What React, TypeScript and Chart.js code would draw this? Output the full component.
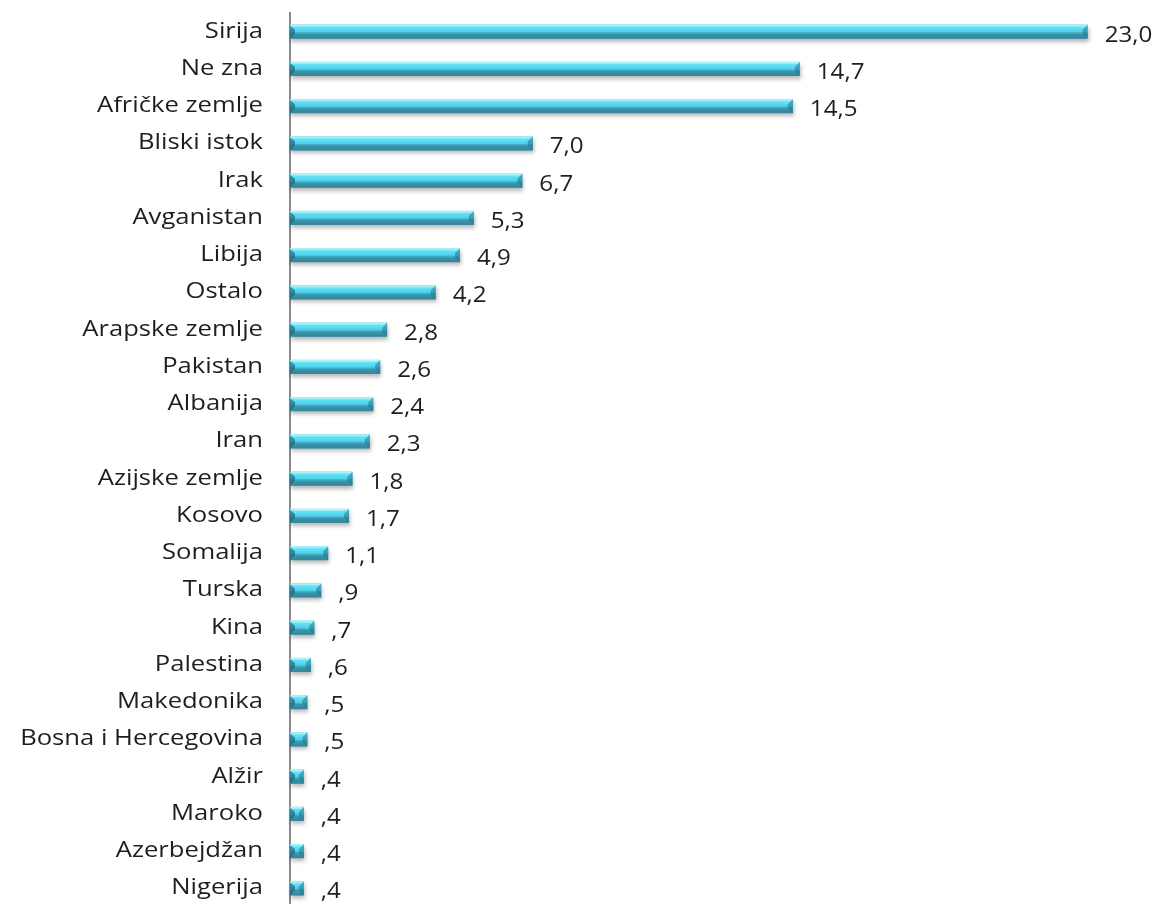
import { useEffect, useRef } from "react";
import { Chart, registerables } from "chart.js";

Chart.register(...registerables);

const categories = [
  "Sirija",
  "Ne zna",
  "Afričke zemlje",
  "Bliski istok",
  "Irak",
  "Avganistan",
  "Libija",
  "Ostalo",
  "Arapske zemlje",
  "Pakistan",
  "Albanija",
  "Iran",
  "Azijske zemlje",
  "Kosovo",
  "Somalija",
  "Turska",
  "Kina",
  "Palestina",
  "Makedonika",
  "Bosna i Hercegovina",
  "Alžir",
  "Maroko",
  "Azerbejdžan",
  "Nigerija",
];

const values = [
  23.0, 14.7, 14.5, 7.0, 6.7, 5.3, 4.9, 4.2, 2.8, 2.6, 2.4, 2.3, 1.8, 1.7, 1.1,
  0.9, 0.7, 0.6, 0.5, 0.5, 0.4, 0.4, 0.4, 0.4,
];

const xMin = 0;
const xMax = 25;

function formatValue(v: number): string {
  const s = v.toFixed(1).replace(".", ",");
  return s.startsWith("0,") ? s.slice(1) : s;
}

const bevelBarsPlugin = {
  id: "bevelBars",
  afterDatasetsDraw(chart: any) {
    const ctx = chart.ctx as CanvasRenderingContext2D;
    const meta = chart.getDatasetMeta(0);
    meta.data.forEach((el: any) => {
      const { x, y, base, height } = el.getProps(["x", "y", "base", "height"], true);
      const x0 = Math.min(base, x);
      const x1 = Math.max(base, x);
      const y0 = y - height / 2;
      const y1 = y + height / 2;
      const w = x1 - x0;
      const h = y1 - y0;
      const b = Math.min(5, w / 2, h / 2);

      // shadow
      ctx.save();
      ctx.shadowColor = "rgba(0,0,0,0.28)";
      ctx.shadowBlur = 4;
      ctx.shadowOffsetY = 3;
      ctx.shadowOffsetX = 1;
      ctx.fillStyle = "#46b0c8";
      ctx.fillRect(x0, y0, w, h);
      ctx.restore();

      // face
      ctx.save();
      const g = ctx.createLinearGradient(0, y0, 0, y1);
      g.addColorStop(0, "#9af3ff");
      g.addColorStop(0.15, "#66e3f7");
      g.addColorStop(0.5, "#50d2ea");
      g.addColorStop(0.58, "#42afc7");
      g.addColorStop(1, "#3a91a7");
      ctx.fillStyle = g;
      ctx.fillRect(x0, y0, w, h);

      // top bevel highlight
      ctx.fillStyle = "rgba(255,255,255,0.3)";
      ctx.beginPath();
      ctx.moveTo(x0, y0);
      ctx.lineTo(x1, y0);
      ctx.lineTo(x1 - 2, y0 + 2);
      ctx.lineTo(x0 + 2, y0 + 2);
      ctx.closePath();
      ctx.fill();

      // bottom bevel
      ctx.fillStyle = "rgba(20,70,90,0.18)";
      ctx.beginPath();
      ctx.moveTo(x0, y1);
      ctx.lineTo(x1, y1);
      ctx.lineTo(x1 - b, y1 - b);
      ctx.lineTo(x0 + b, y1 - b);
      ctx.closePath();
      ctx.fill();

      // left bevel
      ctx.fillStyle = "rgba(25,85,105,0.6)";
      ctx.beginPath();
      ctx.moveTo(x0, y0 + 1);
      ctx.lineTo(x0 + b, y0 + b);
      ctx.lineTo(x0 + b, y1 - b);
      ctx.lineTo(x0, y1);
      ctx.closePath();
      ctx.fill();

      // right bevel
      ctx.fillStyle = "rgba(30,95,115,0.45)";
      ctx.beginPath();
      ctx.moveTo(x1, y0);
      ctx.lineTo(x1 - b, y0 + b);
      ctx.lineTo(x1 - b, y1 - b);
      ctx.lineTo(x1, y1);
      ctx.closePath();
      ctx.fill();
      ctx.restore();
    });
  },
};

const labelsPlugin = {
  id: "customLabels",
  afterDraw(chart: any) {
    const ctx = chart.ctx as CanvasRenderingContext2D;
    const yScale = chart.scales.y;
    const meta = chart.getDatasetMeta(0);
    // category labels
    categories.forEach((c, i) => {
      const y = yScale.getPixelForValue(i);
      ctx.save();
      ctx.font = '21px "Open Sans"';
      ctx.fillStyle = "#1e1e1e";
      ctx.textAlign = "right";
      ctx.textBaseline = "middle";
      ctx.translate(yScale.right - 27, y);
      ctx.scale(1.22, 1);
      ctx.fillText(c, 0, 0);
      ctx.restore();
    });
    // value labels
    meta.data.forEach((el: any, i: number) => {
      const { x, y } = el.getProps(["x", "y"], true);
      ctx.save();
      ctx.font = '21px "Open Sans"';
      ctx.fillStyle = "#1e1e1e";
      ctx.textAlign = "left";
      ctx.textBaseline = "middle";
      ctx.translate(x + 17, y + 4);
      ctx.scale(1.15, 1);
      ctx.fillText(formatValue(values[i]), 0, 0);
      ctx.restore();
    });
  },
};

export default function App() {
  const canvasRef = useRef<HTMLCanvasElement | null>(null);

  useEffect(() => {
    if (!canvasRef.current) return;
    const chart = new Chart(canvasRef.current, {
      type: "bar",
      data: {
        labels: categories,
        datasets: [
          {
            data: values,
            backgroundColor: "rgba(0,0,0,0)",
            borderWidth: 0,
            barThickness: 14,
          },
        ],
      },
      options: {
        indexAxis: "y",
        animation: false,
        responsive: false,
        devicePixelRatio: 1,
        layout: { padding: { top: 13, right: 0, bottom: 0, left: 0 } },
        plugins: {
          legend: { display: false },
          tooltip: { enabled: false },
        },
        scales: {
          x: {
            display: false,
            min: xMin,
            max: xMax,
          },
          y: {
            type: "category",
            display: true,
            grid: { display: false, drawTicks: false },
            ticks: { display: false },
            border: { display: true, color: "#8a8a8a", width: 2 },
            afterFit: (scale: any) => {
              scale.width = 290;
            },
          },
        },
      },
      plugins: [bevelBarsPlugin, labelsPlugin],
    });
    return () => chart.destroy();
  }, []);

  return (
    <div
      style={{
        position: "fixed",
        left: 0,
        top: 0,
        width: 1157,
        height: 907,
        background: "#ffffff",
      }}
    >
      <canvas
        ref={canvasRef}
        width={1157}
        height={907}
        style={{ display: "block", width: 1157, height: 907 }}
      />
    </div>
  );
}
